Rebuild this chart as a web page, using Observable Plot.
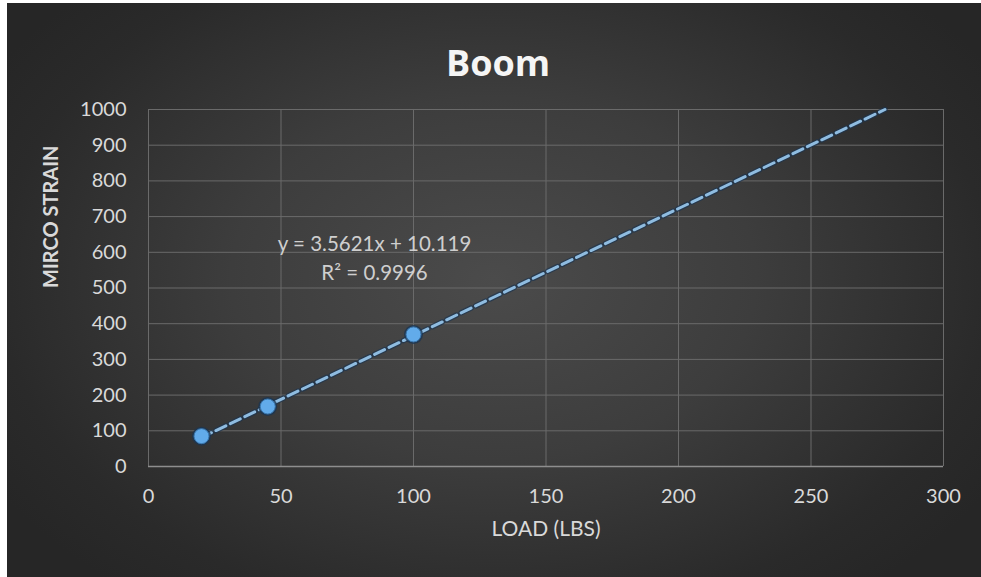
<!DOCTYPE html>
<html>
<head>
<meta charset="utf-8">
<script src="https://cdn.jsdelivr.net/npm/d3@7"></script>
<script src="https://cdn.jsdelivr.net/npm/@observablehq/plot@0.6"></script>
<style>
  html, body { margin: 0; padding: 0; background: #ffffff; }
  #wrap { position: relative; width: 981px; height: 577px; overflow: hidden; background: #ffffff; }
  #bg { position: absolute; left: 7px; top: 3px; width: 974px; height: 574px;
        background: radial-gradient(ellipse 60% 70% at 50% 48%, #4b4b4b 0%, #3d3d3d 45%, #2a2a2a 85%, #262626 100%); }
  #chart { position: absolute; left: 0; top: 0; }
  g[aria-label="title"] text { text-shadow: 2px 2px 2px rgba(0,0,0,0.75); }
</style>
</head>
<body>
<div id="wrap"><div id="bg"></div><div id="chart"></div></div>
<script>
// Data
const loads = [20, 45, 100];           // LOAD (LBS)
const strains = [85, 168, 370];        // MIRCO STRAIN
const xTicks = [0, 50, 100, 150, 200, 250, 300];
const yTicks = [0, 100, 200, 300, 400, 500, 600, 700, 800, 900, 1000];
// Excel linear trendline shown on the chart
const trendSlope = 3.5621;
const trendIntercept = 10.119;
const trendXs = [20, 277.9];           // trendline drawn from first point to top of axis
const equationText = ["y = 3.5621x + 10.119\nR\u00b2 = 0.9996"];
const titleText = ["Boom"];
const xLabel = ["LOAD (LBS)"];
const yLabel = ["MIRCO STRAIN"];

const points = loads.map((x, i) => ({x, y: strains[i]}));
const trend = trendXs.map(x => ({x, y: trendSlope * x + trendIntercept}));

const font = "Lato, 'Open Sans', sans-serif";

const chart = Plot.plot({
  width: 981,
  height: 577,
  marginLeft: 148,
  marginRight: 38,
  marginTop: 109,
  marginBottom: 111,
  style: { background: "transparent", color: "#d9d9d9", fontFamily: font, fontSize: "20px", overflow: "visible" },
  x: { domain: [0, 300] },
  y: { domain: [0, 1000] },
  marks: [
    Plot.gridX(xTicks, { stroke: "#6a6a6a", strokeOpacity: 1, strokeWidth: 1 }),
    Plot.gridY(yTicks, { stroke: "#6a6a6a", strokeOpacity: 1, strokeWidth: 1 }),
    Plot.ruleY([0], { stroke: "#8e8e8e", strokeWidth: 1.5 }),
    Plot.axisX(xTicks, { tickSize: 0, tickPadding: 22, fill: "#d9d9d9", fontSize: 20, label: null, tickFormat: d => String(d) }),
    Plot.axisY(yTicks, { tickSize: 0, tickPadding: 22, fill: "#d9d9d9", fontSize: 20, label: null, tickFormat: d => String(d) }),
    // trendline shadow + dashed line
    Plot.line(trend, { x: "x", y: "y", stroke: "#1d3550", strokeWidth: 5.5, strokeOpacity: 0.7, strokeDasharray: "11 5" }),
    Plot.line(trend, { x: "x", y: "y", stroke: "#8fbce0", strokeWidth: 3, strokeDasharray: "11 5" }),
    // points
    Plot.dot(points, { x: "x", y: "y", r: 9.5, fill: "#1b3652", fillOpacity: 0.8 }),
    Plot.dot(points, { x: "x", y: "y", r: 7.5, fill: "#62abea", stroke: "#3a78b0", strokeWidth: 1 }),
    // equation
    Plot.text(equationText, { x: 85.3, y: 589, text: d => d, fill: "#cfcfcf", fontSize: 20.5, lineHeight: 1.4, textAnchor: "middle", fontFamily: font }),
    // axis titles
    Plot.text(xLabel, { frameAnchor: "bottom", dy: 69, text: d => d, fill: "#d9d9d9", fontSize: 21, fontFamily: font }),
    Plot.text(yLabel, { frameAnchor: "left", dx: -97, rotate: -90, text: d => d, fill: "#d9d9d9", fontSize: 20, fontWeight: "bold", fontFamily: font }),
    // title
    Plot.text(titleText, { ariaLabel: "title", frameAnchor: "top", dx: -48, dy: -59, text: d => d, fill: "#f5f5f5", fontSize: 36, fontWeight: "bold", fontFamily: "'Open Sans', sans-serif" })
  ]
});
document.getElementById("chart").appendChild(chart);
</script>
</body>
</html>
